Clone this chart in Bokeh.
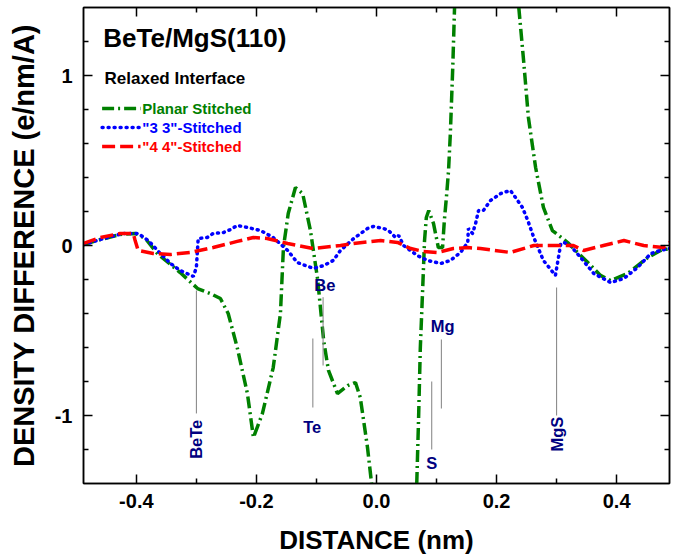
import numpy as np
from bokeh.plotting import figure
from bokeh.models import FixedTicker, CustomJSTickFormatter, LinearAxis, Range1d, Label
from bokeh.embed import file_html
from bokeh.resources import INLINE

# ---------------- data ----------------
planar_x = [-0.488, -0.460, -0.427, -0.402, -0.385, -0.365, -0.343, -0.327, -0.298, -0.277,
            -0.260, -0.247, -0.232, -0.215, -0.205, -0.190, -0.172, -0.160, -0.155, -0.147,
            -0.135, -0.123, -0.110, -0.098, -0.088, -0.080, -0.065, -0.048, -0.035, -0.027,
            -0.015, -0.008, 0.000, 0.055, 0.067, 0.070, 0.073, 0.077, 0.080, 0.083,
            0.087, 0.095, 0.103, 0.110, 0.113, 0.117, 0.120, 0.123, 0.127, 0.130,
            0.140, 0.225, 0.237, 0.245, 0.253, 0.265, 0.278, 0.293, 0.310, 0.320,
            0.340, 0.352, 0.373, 0.390, 0.418, 0.452, 0.473, 0.488]
planar_y = [0.006, 0.035, 0.065, 0.071, 0.041, -0.047, -0.112, -0.159, -0.253, -0.282,
            -0.312, -0.400, -0.600, -0.871, -1.129, -0.988, -0.718, -0.400, -0.012, 0.188,
            0.341, 0.306, 0.088, -0.200, -0.559, -0.735, -0.871, -0.824, -0.806, -0.894,
            -1.188, -1.406, -1.900, -1.900, -1.406, -1.029, -0.600, -0.247, 0.029, 0.165,
            0.206, 0.129, -0.012, -0.012, 0.147, 0.306, 0.441, 0.659, 1.047, 1.400,
            2.200, 2.200, 1.400, 1.088, 0.753, 0.459, 0.224, 0.088, 0.041, 0.012,
            -0.059, -0.100, -0.176, -0.206, -0.165, -0.071, -0.029, -0.018]

s33_x = [-0.488, -0.460, -0.422, -0.397, -0.380, -0.360, -0.343, -0.327, -0.305, -0.300,
         -0.297, -0.282, -0.272, -0.255, -0.243, -0.232, -0.215, -0.193, -0.172, -0.148,
         -0.132, -0.105, -0.088, -0.072, -0.060, -0.038, -0.015, -0.005, 0.012, 0.020,
         0.032, 0.037, 0.045, 0.068, 0.085, 0.107, 0.123, 0.140, 0.152, 0.153,
         0.160, 0.165, 0.170, 0.178, 0.190, 0.207, 0.223, 0.235, 0.243, 0.252,
         0.262, 0.278, 0.298, 0.307, 0.312, 0.323, 0.340, 0.362, 0.390, 0.412,
         0.435, 0.457, 0.473, 0.488]
s33_y = [0.006, 0.035, 0.071, 0.071, 0.029, -0.047, -0.106, -0.147, -0.182, -0.129,
         0.041, 0.047, 0.071, 0.076, 0.094, 0.118, 0.106, 0.088, 0.047, -0.029,
         -0.100, -0.135, -0.118, -0.088, -0.029, 0.041, 0.100, 0.112, 0.100, 0.088,
         0.047, 0.059, 0.000, -0.059, -0.088, -0.106, -0.088, -0.041, 0.018, 0.100,
         0.071, 0.129, 0.206, 0.206, 0.265, 0.306, 0.324, 0.265, 0.224, 0.147,
         0.047, -0.088, -0.176, 0.012, 0.018, 0.000, -0.071, -0.165, -0.218, -0.194,
         -0.129, -0.047, -0.029, -0.018]

s44_x = [-0.488, -0.460, -0.427, -0.405, -0.402, -0.397, -0.372, -0.343, -0.310, -0.272,
         -0.232, -0.205, -0.182, -0.148, -0.105, -0.060, -0.038, 0.007, 0.035, 0.057,
         0.078, 0.102, 0.128, 0.152, 0.173, 0.223, 0.262, 0.302, 0.328, 0.345,
         0.378, 0.412, 0.445, 0.478, 0.488]
s44_y = [0.012, 0.047, 0.071, 0.071, 0.029, -0.029, -0.047, -0.053, -0.041, -0.012,
         0.024, 0.047, 0.041, 0.012, -0.018, 0.000, 0.012, 0.029, 0.018, -0.018,
         -0.035, -0.041, -0.018, -0.012, -0.018, -0.041, 0.000, 0.000, 0.000, -0.029,
         0.000, 0.029, 0.000, -0.012, 0.018]

# atom marker lines and labels
marker_x = [-0.300, -0.089, -0.106, 0.108, 0.092, 0.300]
marker_y0 = [-0.265, -0.304, -0.547, -0.553, -0.800, -0.247]
marker_y1 = [-0.988, -0.706, -0.953, -0.959, -1.200, -1.000]
label_text = ["BeTe", "Be", "Te", "Mg", "S", "MgS"]
label_x = [-0.300, -0.086, -0.107, 0.110, 0.092, 0.300]
label_y = [-1.140, -0.235, -1.070, -0.476, -1.282, -1.110]
label_rot = [True, False, False, False, False, True]

x_major = [-0.4, -0.2, 0.0, 0.2, 0.4]
x_minor = [-0.3, -0.1, 0.1, 0.3]
y_major = [-1, 0, 1]
y_minor = [-1.2, -0.8, -0.6, -0.4, -0.2, 0.2, 0.4, 0.6, 0.8, 1.2]

legend_names = ["Planar Stitched", '"3 3"-Stitched', '"4 4"-Stitched']
legend_colors = ["#008000", "#0000ff", "#ff0000"]
legend_y = [0.806, 0.694, 0.582]
legend_x = [-0.457, -0.393]

FONT = "Liberation Sans"
GREEN, BLUE, RED, NAVY = "#008000", "#0000ff", "#ff0000", "#000080"
DASHES = ["12 4 2 4", "1 5", "13 5"]
CAPS = ["butt", "round", "butt"]

p = figure(width=677, height=560, x_range=Range1d(-0.488, 0.488), y_range=Range1d(-1.4, 1.4),
           output_backend="svg", toolbar_location=None,
           min_border_left=83, min_border_right=8, min_border_top=7, min_border_bottom=77)
p.background_fill_color = "white"
p.border_fill_color = "white"
p.xgrid.visible = False
p.ygrid.visible = False
p.outline_line_color = "black"
p.outline_line_width = 1.5

xt = FixedTicker(ticks=x_major, minor_ticks=x_minor)
yt = FixedTicker(ticks=y_major, minor_ticks=y_minor)

for ax, tk, code in [(p.xaxis[0], xt, "return tick.toFixed(1);"), (p.yaxis[0], yt, "return tick.toFixed(0);")]:
    ax.ticker = tk
    ax.formatter = CustomJSTickFormatter(code=code)
    ax.major_tick_in = 9
    ax.major_tick_out = 0
    ax.minor_tick_in = 5
    ax.minor_tick_out = 0
    ax.axis_line_width = 1.5
    ax.major_tick_line_width = 1.5
    ax.minor_tick_line_width = 1.5
    ax.major_label_text_font = FONT
    ax.major_label_text_font_style = "bold"
    ax.major_label_text_font_size = "20px"
    ax.major_label_text_color = "black"
    ax.axis_label_text_font = FONT
    ax.axis_label_text_font_style = "bold"
    ax.axis_label_text_color = "black"

p.xaxis[0].axis_label = "DISTANCE (nm)"
p.xaxis[0].axis_label_text_font_size = "26px"
p.xaxis[0].major_label_standoff = 10
p.xaxis[0].axis_label_standoff = 14
p.yaxis[0].axis_label = "DENSITY DIFFERENCE (e/nm/A)"
p.yaxis[0].axis_label_text_font_size = "29px"
p.yaxis[0].major_label_standoff = 11
p.yaxis[0].axis_label_standoff = 12

# mirrored tick marks on top and right (no labels)
for loc, tk in [("above", xt), ("right", yt)]:
    ax = LinearAxis(ticker=tk, major_label_text_color=None, major_label_text_font_size="1px",
                    major_label_standoff=0,
                    major_tick_in=9, major_tick_out=0, minor_tick_in=5, minor_tick_out=0,
                    axis_line_width=1.5, major_tick_line_width=1.5, minor_tick_line_width=1.5)
    p.add_layout(ax, loc)

# curves
p.line(planar_x, planar_y, line_color=GREEN, line_width=3.5, line_dash=DASHES[0])
p.line(s33_x, s33_y, line_color=BLUE, line_width=3.5, line_dash=DASHES[1], line_cap="round")
p.line(s44_x, s44_y, line_color=RED, line_width=3.5, line_dash=DASHES[2])

# atom markers
p.segment(x0=marker_x, y0=marker_y0, x1=marker_x, y1=marker_y1, line_color="#808080", line_width=1)
for t, lx, ly, rot in zip(label_text, label_x, label_y, label_rot):
    p.add_layout(Label(x=lx, y=ly, text=t, text_font=FONT, text_font_style="bold",
                       text_font_size="16.5px", text_color=NAVY, text_align="center",
                       text_baseline="middle", angle=(np.pi / 2 if rot else 0)))

# title texts
p.add_layout(Label(x=-0.455, y=1.218, text="BeTe/MgS(110)", text_font=FONT, text_font_style="bold",
                   text_font_size="26px", text_color="black", text_baseline="middle"))
p.add_layout(Label(x=-0.453, y=0.982, text="Relaxed Interface", text_font=FONT, text_font_style="bold",
                   text_font_size="17px", text_color="black", text_baseline="middle"))

# manual legend
for name, col, ly, dsh, cap in zip(legend_names, legend_colors, legend_y, DASHES, CAPS):
    p.line(legend_x, [ly, ly], line_color=col, line_width=3.5, line_dash=dsh, line_cap=cap)
    p.add_layout(Label(x=legend_x[1] + 0.003, y=ly, text=name, text_font=FONT, text_font_style="bold",
                       text_font_size="15px", text_color=col, text_baseline="middle"))

open("out.html", "w").write(file_html(p, INLINE))
